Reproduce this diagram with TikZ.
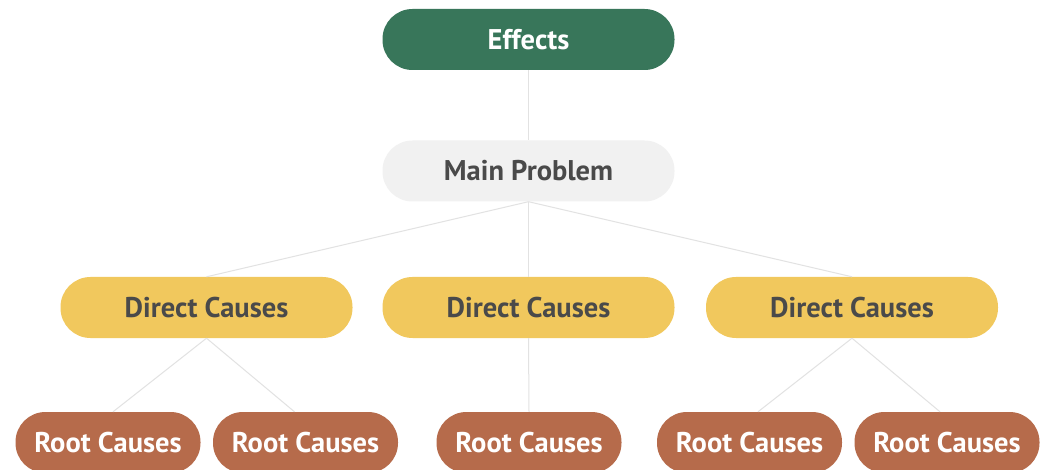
\documentclass[tikz,border=0pt]{standalone}
\usepackage{fontspec}
\setmainfont{PT Sans}
\definecolor{effgreen}{HTML}{38765A}
\definecolor{probgray}{HTML}{F1F1F1}
\definecolor{directyel}{HTML}{F1C85D}
\definecolor{rootbrown}{HTML}{B66B4B}
\definecolor{darktext}{HTML}{4A4A4A}
\definecolor{linkgray}{HTML}{E2E2E2}
\begin{document}
\begin{tikzpicture}[x=1pt,y=-1pt,
  pill/.style={rectangle, rounded corners=30pt, inner sep=0pt, minimum height=61pt,
    font=\bfseries\fontsize{28.5}{32}\selectfont},
  effbox/.style={pill, fill=effgreen, text=white, minimum width=292pt},
  probbox/.style={pill, fill=probgray, text=darktext, minimum width=292pt},
  dirbox/.style={pill, fill=directyel, text=darktext, minimum width=292pt},
  rootbox/.style={pill, fill=rootbrown, text=white, minimum width=185pt},
  link/.style={draw=linkgray, line width=1pt}]
\useasboundingbox (0,0) rectangle (1044,470);
\fill[white] (0,0) rectangle (1044,470);
\node[effbox] (eff) at (528.5,39.5) {Effects};
\node[probbox] (main) at (528.5,171) {Main Problem};
\node[dirbox] (d1) at (206.5,307.5) {Direct Causes};
\node[dirbox] (d2) at (528.5,307.5) {Direct Causes};
\node[dirbox] (d3) at (852,307.5) {Direct Causes};
\node[rootbox] (r1) at (108,442.5) {Root Causes};
\node[rootbox] (r2) at (305.5,442.5) {Root Causes};
\node[rootbox] (r3) at (529,442.5) {Root Causes};
\node[rootbox] (r4) at (749.5,442.5) {Root Causes};
\node[rootbox] (r5) at (947,442.5) {Root Causes};
\draw[link] (eff.south) -- (main.north);
\draw[link] (main.south) -- (d1.north);
\draw[link] (main.south) -- (d2.north);
\draw[link] (main.south) -- (d3.north);
\draw[link] (d1.south) -- ([xshift=5pt]r1.north);
\draw[link] (d1.south) -- ([xshift=-11pt]r2.north);
\draw[link] (d2.south) -- (r3.north);
\draw[link] (d3.south) -- ([xshift=8.5pt]r4.north);
\draw[link] (d3.south) -- ([xshift=-7pt]r5.north);
\end{tikzpicture}
\end{document}
